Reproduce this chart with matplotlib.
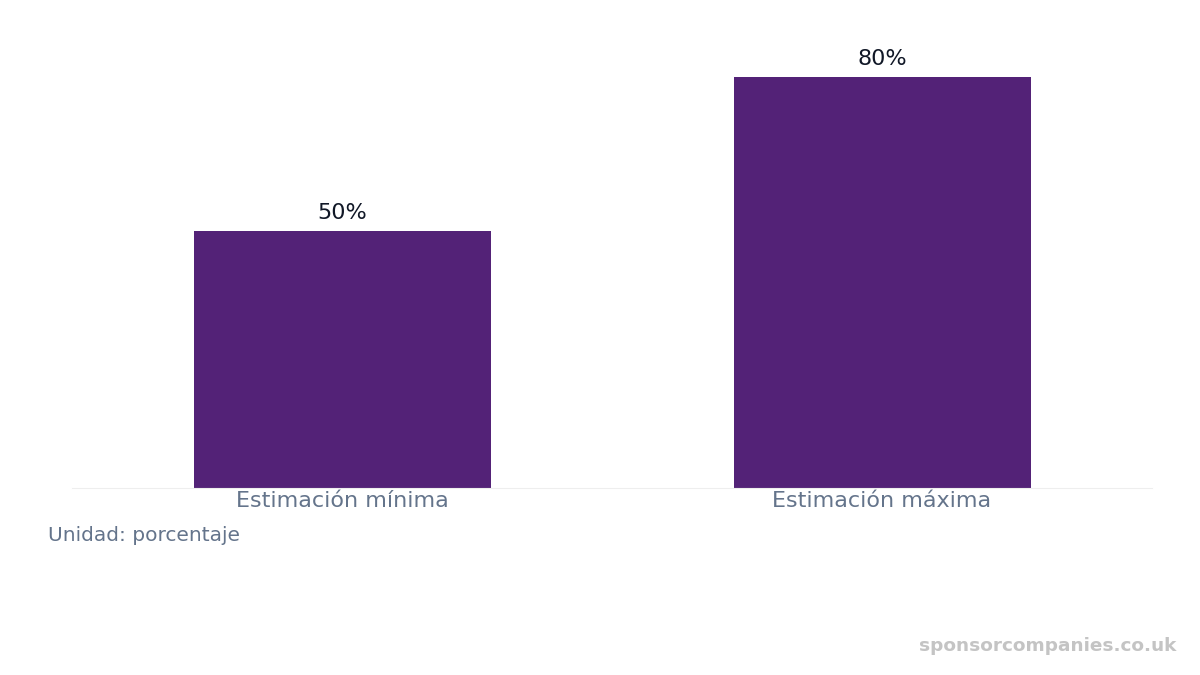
import matplotlib
matplotlib.use("Agg")
import matplotlib.pyplot as plt

plt.rcParams["font.family"] = ["DejaVu Sans"]

categories = ["Estimación mínima", "Estimación máxima"]
values = [50, 80]
labels = ["50%", "80%"]

fig = plt.figure(figsize=(12, 6.75), dpi=100)
ax = fig.add_axes([0.06, 0.277, 0.90, 0.693])

x = range(len(categories))
bars = ax.bar(x, values, width=0.55, color="#532277")

for b, lab in zip(bars, labels):
    ax.text(b.get_x() + b.get_width() / 2, b.get_height() + 1.5, lab,
            ha="center", va="bottom", fontsize=16, color="#111827")

ax.set_xlim(-0.5, 1.5)
ax.set_ylim(0, 91)
ax.set_xticks(list(x))
ax.set_xticklabels(categories, fontsize=16, color="#64748b")
ax.tick_params(axis="x", length=0, pad=2)
ax.set_yticks([])
for s in ["top", "right", "left"]:
    ax.spines[s].set_visible(False)
ax.spines["bottom"].set_color("#eeeeee")

fig.text(0.04, 0.207, "Unidad: porcentaje", fontsize=14.5, color="#64748b",
         va="center")
fig.text(0.98, 0.043, "sponsorcompanies.co.uk", fontsize=13.3, color="#c4c4c4",
         fontweight="bold", ha="right", va="center")

fig.savefig("out.png", dpi=100)
